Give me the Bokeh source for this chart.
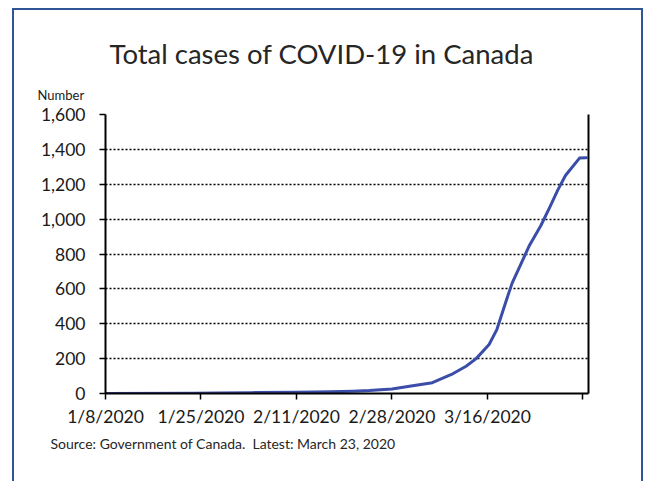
from bokeh.plotting import figure
from bokeh.models import (Range1d, FixedTicker, NumeralTickFormatter, LinearAxis,
                          Title, ColumnDataSource)
from bokeh.embed import file_html
from bokeh.resources import INLINE

# Days since 1/8/2020 and cumulative confirmed cases
day = [0, 16, 20, 26, 34, 40, 44, 47, 51, 54.7, 58.2, 61.6, 64.2, 66.0, 68.3,
       69.7, 71.2, 72.4, 74.0, 75.4, 77.5, 79.2, 80.5, 81.9, 84.4, 85.6]
cases = [0, 1, 3, 5, 7, 10, 13, 17, 26, 44, 62, 109, 156, 200, 281,
         368, 518, 633, 745, 844, 962, 1075, 1165, 1250, 1350, 1352]

x_ticks = [0, 17, 34, 51, 68, 85]
x_tick_labels = ["1/8/2020", "1/25/2020", "2/11/2020", "2/28/2020", "3/16/2020", ""]
y_ticks = [0, 200, 400, 600, 800, 1000, 1200, 1400, 1600]

FONT = "Lato"
INK = "#1a1a1a"
BLUE = "#3A4DA8"
FRAME_BLUE = "#2F5597"

# the panel sits inside a thin blue box
p = figure(width=631, height=480, output_backend="svg", toolbar_location=None,
           title=None,
           x_range=Range1d(0, 86), y_range=Range1d(0, 1600),
           min_border_left=91, min_border_right=57,
           min_border_top=104, min_border_bottom=97,
           styles={"margin-left": "12px", "margin-top": "8px",
                   "border": f"2.5px solid {FRAME_BLUE}"})
p.background_fill_color = "white"
p.border_fill_color = "white"
p.outline_line_color = None

src = ColumnDataSource(data=dict(day=day, cases=cases))
p.line("day", "cases", source=src, line_color=BLUE, line_width=3,
       line_join="round", line_cap="round")

# x axis
xa = p.xaxis[0]
xa.ticker = FixedTicker(ticks=x_ticks)
xa.major_label_overrides = {t: lab for t, lab in zip(x_ticks, x_tick_labels)}
xa.minor_tick_line_color = None
xa.major_tick_in = 0
xa.major_tick_out = 6
xa.major_tick_line_width = 1.5
xa.major_tick_line_color = "black"
xa.axis_line_width = 2
xa.axis_line_color = "black"
xa.major_label_text_font = FONT
xa.major_label_text_font_size = "17.5px"
xa.major_label_text_color = INK
xa.major_label_standoff = 6

# y axis
ya = p.yaxis[0]
ya.ticker = FixedTicker(ticks=y_ticks)
ya.formatter = NumeralTickFormatter(format="0,0")
ya.minor_tick_line_color = None
ya.major_tick_in = 0
ya.major_tick_out = 6
ya.major_tick_line_width = 1.5
ya.major_tick_line_color = "black"
ya.axis_line_width = 2
ya.axis_line_color = "black"
ya.major_label_text_font = FONT
ya.major_label_text_font_size = "17.5px"
ya.major_label_text_color = INK
ya.major_label_standoff = 14

# plain right edge of the plot area
ra = LinearAxis(ticker=FixedTicker(ticks=[]), axis_line_width=2,
                axis_line_color="black", major_tick_line_color=None,
                minor_tick_line_color=None, major_label_text_font_size="0px")
p.add_layout(ra, "right")

# dotted horizontal gridlines
p.xgrid.grid_line_color = None
p.ygrid.ticker = FixedTicker(ticks=y_ticks[1:])
p.ygrid.grid_line_color = "black"
p.ygrid.grid_line_width = 1.5
p.ygrid.grid_line_dash = "2 2"

# unit caption (nearest the plot area) and main title above it
p.add_layout(Title(text="Number", align="left", offset=-68,
                   text_font=FONT, text_font_size="13px",
                   text_font_style="normal", text_color=INK,
                   standoff=24), "above")
p.add_layout(Title(text="Total cases of COVID-19 in Canada", align="left",
                   offset=4, text_font=FONT, text_font_size="27.5px",
                   text_font_style="normal", text_color="#262626",
                   standoff=6), "above")

# source note under the date axis
p.add_layout(Title(text="Source: Government of Canada.\u00a0 Latest: March 23, 2020",
                   align="left", offset=-55, text_font=FONT,
                   text_font_size="14px", text_font_style="normal",
                   text_color="#262626", standoff=6), "below")

open("out.html", "w").write(file_html(p, INLINE))
